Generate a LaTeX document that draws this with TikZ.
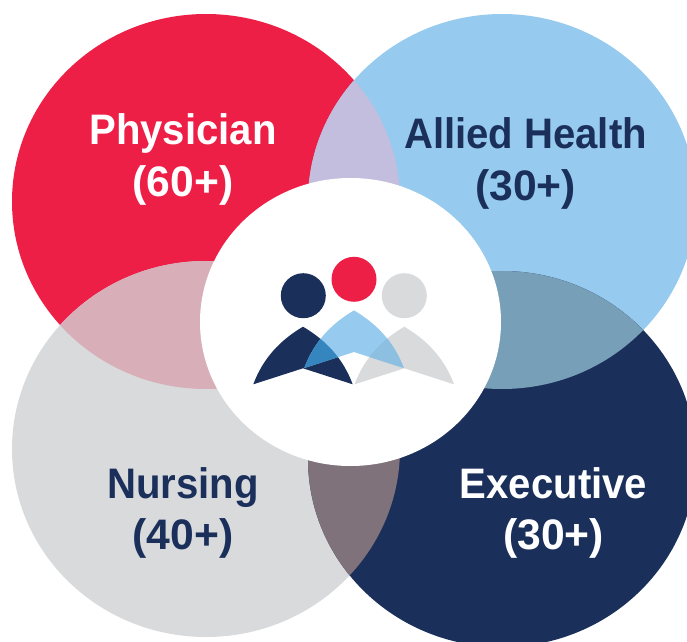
\documentclass[tikz,border=0pt]{standalone}
\usepackage{fontspec}
\setmainfont{Liberation Sans}[FakeStretch=0.94]
\newfontfamily\countfont{Liberation Sans}
\definecolor{cRed}{HTML}{EE1F47}
\definecolor{cBlue}{HTML}{96CAEE}
\definecolor{cGray}{HTML}{D8DADB}
\definecolor{cNavy}{HTML}{1B2F5B}
\definecolor{cLilac}{HTML}{C3BEDD}
\definecolor{cPink}{HTML}{D8AEB9}
\definecolor{cSteel}{HTML}{789FB8}
\definecolor{cBrown}{HTML}{80727A}
\definecolor{cMid}{HTML}{3585BE}
\definecolor{cPale}{HTML}{8DBFE0}
\tikzset{
  label/.style={font=\fontsize{32}{38.5}\selectfont\bfseries,align=center,inner sep=0pt},
  shiftNavy/.style={shift={(303,368.3)}},
  shiftBlue/.style={shift={(354,352)}},
  shiftGray/.style={shift={(404.3,368.3)}},
}
\newcommand{\ovalRed}{(206,201.5) ellipse (194 and 187.5)}
\newcommand{\ovalBlue}{(502,201.5) ellipse (194 and 187.5)}
\newcommand{\ovalGray}{(206,449) ellipse (194 and 188)}
\newcommand{\ovalNavy}{(502,459) ellipse (194 and 188)}
\newcommand{\bodypath}{(-49.7,16) .. controls (-40,-10) and (-23,-28) .. (0,-41.6) .. controls (23,-28) and (40,-10) .. (49.7,16) -- (0,0) -- cycle}
\begin{document}
\begin{tikzpicture}[x=0.75pt,y=-0.75pt]
\useasboundingbox (0,0) rectangle (687,642);
\begin{scope}
\clip (0,0) rectangle (687,642);
\fill[cRed] \ovalRed;
\fill[cBlue] \ovalBlue;
\fill[cGray] \ovalGray;
\fill[cNavy] \ovalNavy;
\begin{scope}\clip \ovalRed; \fill[cLilac] \ovalBlue; \end{scope}
\begin{scope}\clip \ovalRed; \fill[cPink] \ovalGray; \end{scope}
\begin{scope}\clip \ovalBlue; \fill[cSteel] \ovalNavy; \end{scope}
\begin{scope}\clip \ovalGray; \fill[cBrown] \ovalNavy; \end{scope}
\end{scope}
\fill[white] (350.5,322) ellipse (150.5 and 144);
% heads
\fill[cNavy] (303.3,295.7) circle (22.5);
\fill[cRed] (354,279.3) circle (22.5);
\fill[cGray] (404.3,295.7) circle (22.5);
% bodies
\fill[cNavy,shiftNavy] \bodypath;
\fill[cGray,shiftGray] \bodypath;
\fill[cBlue,shiftBlue] \bodypath;
\begin{scope}
\clip[shiftNavy] \bodypath;
\fill[cMid,shiftBlue] \bodypath;
\end{scope}
\begin{scope}
\clip[shiftGray] \bodypath;
\fill[cPale,shiftBlue] \bodypath;
\end{scope}
% labels
\node[label,text=white] (physician) at (183,159.5) {Physician\\\countfont(60+)};
\node[label,text=cNavy] (allied) at (525.5,163.5) {Allied Health\\\countfont(30+)};
\node[label,text=cNavy] (nursing) at (183,513) {Nursing\\\countfont(40+)};
\node[label,text=white] (executive) at (553.5,513) {Executive\\\countfont(30+)};
\end{tikzpicture}
\end{document}
